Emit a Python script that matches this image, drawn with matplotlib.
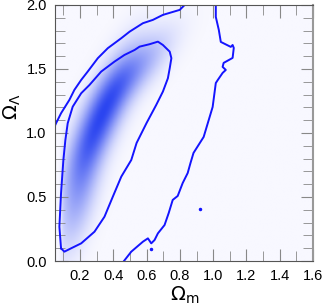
import numpy as np
import matplotlib
matplotlib.use("Agg")
import matplotlib.pyplot as plt
from matplotlib.colors import LinearSegmentedColormap
from matplotlib.ticker import MultipleLocator

plt.rcParams['font.family'] = ['Liberation Sans', 'DejaVu Sans']

# shading: a few gaussian blobs
blob_om = [0.33, 0.20, 0.55]
blob_ol = [1.13, 0.55, 1.50]
blob_som = [0.13, 0.09, 0.14]
blob_sol = [0.32, 0.32, 0.20]
blob_rho = [0.78, 0.60, 0.75]
blob_w = [1.0, 0.5, 0.45]
om_cut = 0.085  # shading stops left of this

# 68% contour (closed)
inner_om = [0.086, 0.076, 0.086, 0.100, 0.112, 0.126, 0.156, 0.207, 0.257, 0.327,
            0.407, 0.467, 0.528, 0.558, 0.618, 0.668, 0.698, 0.739, 0.749, 0.739,
            0.728, 0.698, 0.658, 0.600, 0.540, 0.508, 0.448, 0.397, 0.347, 0.287,
            0.207, 0.146, 0.106, 0.086]
inner_ol = [0.099, 0.268, 0.531, 0.789, 0.945, 1.076, 1.205, 1.310, 1.375, 1.479,
            1.557, 1.609, 1.648, 1.674, 1.693, 1.713, 1.687, 1.635, 1.584, 1.505,
            1.427, 1.323, 1.219, 1.078, 0.922, 0.789, 0.659, 0.502, 0.346, 0.229,
            0.138, 0.099, 0.073, 0.099]

# 95% contour, upper-left branch
outer_a_om = [0.040, 0.056, 0.086, 0.136, 0.166, 0.207, 0.246, 0.307, 0.367, 0.448,
              0.498, 0.578, 0.638, 0.698, 0.799, 0.845]
outer_a_ol = [1.030, 1.076, 1.154, 1.258, 1.336, 1.414, 1.479, 1.584, 1.662, 1.740,
              1.791, 1.857, 1.883, 1.922, 1.961, 2.020]

# 95% contour, lower-right branch
outer_b_om = [0.452, 0.508, 0.578, 0.608, 0.628, 0.648, 0.668, 0.708, 0.733, 0.757,
              0.787, 0.817, 0.847, 0.864, 0.882, 0.943, 0.997, 1.016, 1.028, 1.057,
              1.076, 1.057, 1.063, 1.117, 1.124, 1.117, 1.106, 1.046, 1.034, 1.016,
              1.016]
outer_b_ol = [-0.02, 0.073, 0.151, 0.177, 0.138, 0.164, 0.216, 0.281, 0.375, 0.477,
              0.508, 0.609, 0.687, 0.766, 0.844, 0.969, 1.203, 1.390, 1.414, 1.469,
              1.492, 1.516, 1.547, 1.586, 1.664, 1.687, 1.672, 1.711, 1.805, 1.906,
              2.020]

# isolated contour islands
dots_om = [0.924, 0.628]
dots_ol = [0.406, 0.091]

fig = plt.figure(figsize=(3.22, 3.06), dpi=100)
ax = fig.add_axes([0.171, 0.147, 0.801, 0.837])

xx, yy = np.meshgrid(np.linspace(0.05, 1.6, 320), np.linspace(0.0, 2.0, 320))
dens = np.zeros_like(xx)
for m1, m2, s1, s2, r, w in zip(blob_om, blob_ol, blob_som, blob_sol, blob_rho, blob_w):
    u = (xx - m1) / s1
    v = (yy - m2) / s2
    dens += w * np.exp(-(u**2 - 2 * r * u * v + v**2) / (2 * (1 - r**2)))
dens *= 1 / (1 + np.exp(-(xx - om_cut) / 0.006))
dens /= dens.max()

cmap = LinearSegmentedColormap.from_list('wb', ['#f8f8ff', '#2b45f0'])
ax.imshow(dens, extent=[0.05, 1.6, 0.0, 2.0], origin='lower', aspect='auto',
          cmap=cmap, vmin=0, vmax=1, interpolation='bilinear')

line_kw = dict(color='#1414ff', lw=1.4)
ax.plot(inner_om, inner_ol, **line_kw)
ax.plot(outer_a_om, outer_a_ol, **line_kw)
ax.plot(outer_b_om, outer_b_ol, **line_kw)
ax.plot(dots_om, dots_ol, 'o', color='#1414ff', ms=1.5)

ax.set_xlim(0.05, 1.6)
ax.set_ylim(0.0, 2.0)
ax.xaxis.set_major_locator(MultipleLocator(0.2))
ax.xaxis.set_minor_locator(MultipleLocator(0.1))
ax.yaxis.set_major_locator(MultipleLocator(0.5))
ax.yaxis.set_minor_locator(MultipleLocator(0.1))
ax.tick_params(which='both', direction='in', top=True, right=True,
               color='#888888', labelsize=10.5, pad=6)
ax.tick_params(which='major', length=9)
ax.tick_params(which='minor', length=7)
for s in ax.spines.values():
    s.set_color('#555555')
ax.spines['right'].set_color('#999999')
ax.spines['right'].set_linewidth(1.5)

ax.set_xlabel(r'$\Omega_\mathrm{m}$', fontsize=14)
ax.xaxis.set_label_coords(0.504, -0.135)
ax.xaxis.label.set_va('center')
ax.set_ylabel(r'$\Omega_\Lambda$', fontsize=14)
ax.yaxis.set_label_coords(-0.165, 0.6)
ax.yaxis.label.set_va('center')

fig.savefig('out.png', dpi=100)
